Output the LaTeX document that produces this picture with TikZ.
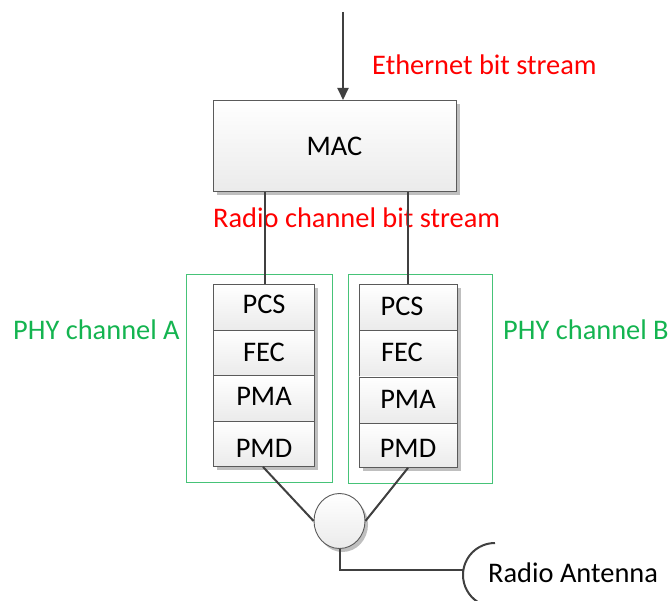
\documentclass[tikz,border=0pt]{standalone}
\usepackage{fontspec}
\setmainfont{Carlito}
\usetikzlibrary{arrows.meta,shapes.geometric}
\definecolor{lc}{RGB}{64,64,64}
\definecolor{gc}{RGB}{70,195,120}
\definecolor{gt}{RGB}{20,180,80}
\definecolor{bc}{RGB}{90,90,90}
\tikzset{
  blk/.style={draw=bc, line width=0.9pt, top color=white, bottom color=black!8, anchor=north west, inner sep=0pt},
  con/.style={draw=lc, line width=2pt},
  grn/.style={draw=gc, line width=0.9pt, anchor=north west, inner sep=0pt},
  lbl/.style={font=\fontsize{28.4}{32}\selectfont, inner sep=0pt},
  shd/.style={fill=black!25},
}
\begin{document}
\begin{tikzpicture}[x=1pt,y=-1pt]
\useasboundingbox (0,0) rectangle (668,601);
% MAC
\fill[shd] (217,104) rectangle (460,195);
\node[blk, minimum width=243pt, minimum height=91pt] (mac) at (213,100) {};
\node[lbl, anchor=base] (mactxt) at (334.5,156) {MAC};
\coordinate (top) at (343,12);
\draw[con, -{Triangle[length=12pt,width=11pt]}] (top) -- (mac.north -| top);
\node[lbl, text=red, anchor=base west] (eth) at (372,75) {Ethernet bit stream};
% green frames
\node[grn, minimum width=146pt, minimum height=208pt] (ga) at (186,274) {};
\node[grn, minimum width=144pt, minimum height=209pt] (gb) at (347.5,274) {};
% stack A
\fill[shd] (217,288) rectangle (318,470);
\node[blk, minimum width=101pt, minimum height=46pt] (pcsA) at (213,284) {};
\node[blk, minimum width=101pt, minimum height=45pt] (fecA) at (213,330) {};
\node[blk, minimum width=101pt, minimum height=46pt] (pmaA) at (213,375) {};
\node[blk, minimum width=101pt, minimum height=45pt] (pmdA) at (213,421) {};
\node[lbl, anchor=base] at (264,313.3) {PCS};
\node[lbl, anchor=base] at (264,361.7) {FEC};
\node[lbl, anchor=base] at (264,405.7) {PMA};
\node[lbl, anchor=base] at (264,457.3) {PMD};
% stack B
\fill[shd] (362.5,288) rectangle (461,471);
\node[blk, minimum width=98pt, minimum height=46pt] (pcsB) at (359,284) {};
\node[blk, minimum width=98pt, minimum height=46.5pt] (fecB) at (359,330) {};
\node[blk, minimum width=98pt, minimum height=46.5pt] (pmaB) at (359,376.5) {};
\node[blk, minimum width=98pt, minimum height=44pt] (pmdB) at (359,423) {};
\node[lbl, anchor=base] at (402,315) {PCS};
\node[lbl, anchor=base] at (402,361.7) {FEC};
\node[lbl, anchor=base] at (408,408.3) {PMA};
\node[lbl, anchor=base] at (408,457.3) {PMD};
% label between MAC and PHY
\node[lbl, text=red, anchor=base west] (rad) at (213,228) {Radio channel bit stream};
% connectors MAC to PCS
\coordinate (xa) at (265,0);
\coordinate (xb) at (408,0);
\draw[con] (mac.south -| xa) -- (pcsA.north -| xa);
\draw[con] (mac.south -| xb) -- (pcsB.north -| xb);
% PHY labels
\node[lbl, text=gt, anchor=base west] (pa) at (13,339) {PHY channel A};
\node[lbl, text=gt, anchor=base west] (pb) at (503,339) {PHY channel B};
% combiner circle
\fill[shd] (342.5,524.5) ellipse (25.5pt and 27.5pt);
\node[draw=bc, line width=0.9pt, ellipse, minimum width=51pt, minimum height=55pt, inner sep=0pt,
  top color=white, bottom color=black!8] (cmb) at (339.5,521) {};
\coordinate (pa0) at (263,0);
\coordinate (pb0) at (408,0);
\draw[con] (pmdA.south -| pa0) -- (cmb.west);
\draw[con] (pmdB.south -| pb0) -- (cmb.east);
% antenna
\coordinate (ant) at (463,569.5);
\draw[con] (cmb.south) |- (ant);
\draw[lc, line width=2pt] (495,543) arc[start angle=270, end angle=123, radius=32];
\node[lbl, anchor=base west] (antt) at (488,582) {Radio Antenna};
\end{tikzpicture}
\end{document}
